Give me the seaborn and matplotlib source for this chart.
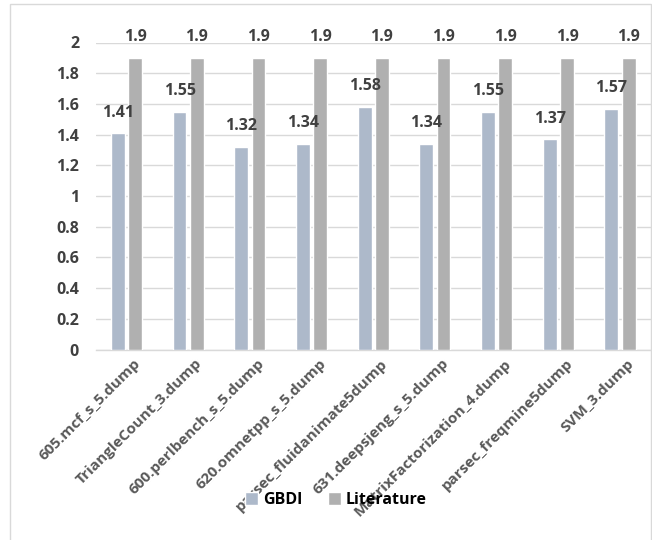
import matplotlib
matplotlib.use("Agg")
import matplotlib.pyplot as plt
import matplotlib.transforms as mtransforms
import seaborn as sns
import pandas as pd
from matplotlib.patches import Rectangle

categories = ["605.mcf_s_5.dump", "TriangleCount_3.dump", "600.perlbench_s_5.dump",
              "620.omnetpp_s_5.dump", "parsec_fluidanimate5dump", "631.deepsjeng_s_5.dump",
              "MatrixFactorization_4.dump", "parsec_freqmine5dump", "SVM_3.dump"]
gbdi = [1.41, 1.55, 1.32, 1.34, 1.58, 1.34, 1.55, 1.37, 1.57]
literature = [1.9, 1.9, 1.9, 1.9, 1.9, 1.9, 1.9, 1.9, 1.9]
series_names = ["GBDI", "Literature"]
yticks = [0, 0.2, 0.4, 0.6, 0.8, 1, 1.2, 1.4, 1.6, 1.8, 2]
ytick_labels = ["0", "0.2", "0.4", "0.6", "0.8", "1", "1.2", "1.4", "1.6", "1.8", "2"]

df = pd.DataFrame({
    "cat": categories * 2,
    "val": gbdi + literature,
    "series": [series_names[0]] * len(categories) + [series_names[1]] * len(categories),
})

sns.set_theme(style="white")
plt.rcParams["font.family"] = ["Open Sans", "DejaVu Sans"]

fig = plt.figure(figsize=(6.52, 5.40), dpi=100)
ax = fig.add_axes([95.7 / 652, 1 - 349.5 / 540, (650.8 - 95.7) / 652, 307 / 540])

palette = {"GBDI": "#ADB9CA", "Literature": "#B0B0B0"}
sns.barplot(data=df, x="cat", y="val", hue="series", palette=palette, ax=ax,
            width=0.56, gap=0.2, saturation=1, legend=True, zorder=3)

ax.set_ylim(0, 2)
ax.set_yticks(yticks)
ax.set_yticklabels(ytick_labels)
ax.yaxis.grid(True, color="#D9D9D9", linewidth=1.0, zorder=0)
ax.set_axisbelow(True)
for s in ["top", "right", "left"]:
    ax.spines[s].set_visible(False)
ax.spines["bottom"].set_color("#D9D9D9")
ax.spines["bottom"].set_linewidth(1.0)
ax.set_xlabel("")
ax.set_ylabel("")
ax.tick_params(axis="both", length=0)
ax.tick_params(axis="y", pad=12)
for lab in ax.get_yticklabels():
    lab.set_fontweight("bold")
    lab.set_color("#404040")
    lab.set_fontsize(11.5)
ax.set_xticks(range(len(categories)))
ax.set_xticklabels(categories, rotation=45, ha="right", rotation_mode="anchor",
                   fontsize=11, fontweight="bold", color="#595959")
ax.tick_params(axis="x", pad=5)
offset = mtransforms.ScaledTranslation(7 / 100, 0, fig.dpi_scale_trans)
for lab in ax.get_xticklabels():
    lab.set_transform(lab.get_transform() + offset)

for cont in ax.containers:
    ax.bar_label(cont, labels=[f"{v:g}" for v in cont.datavalues], padding=9,
                 fontsize=11.5, fontweight="bold", color="#404040", clip_on=False)

handles, labels = ax.get_legend_handles_labels()
ax.legend(handles, labels, loc="center", bbox_to_anchor=(336 / 652, 1 - 500 / 540),
          bbox_transform=fig.transFigure, ncol=2, frameon=False,
          prop={"weight": "bold", "size": 11.5}, handlelength=0.8, handleheight=0.8,
          handletextpad=0.3, columnspacing=1.6)
for t in ax.get_legend().get_texts():
    t.set_color("#000000")

fig.patches.append(Rectangle((10 / 652, -0.02), (651 - 10) / 652, 1 - 4 / 540 + 0.02,
                             transform=fig.transFigure, fill=False,
                             edgecolor="#D9D9D9", linewidth=1.0, zorder=0))

fig.savefig("out.png", dpi=100)
